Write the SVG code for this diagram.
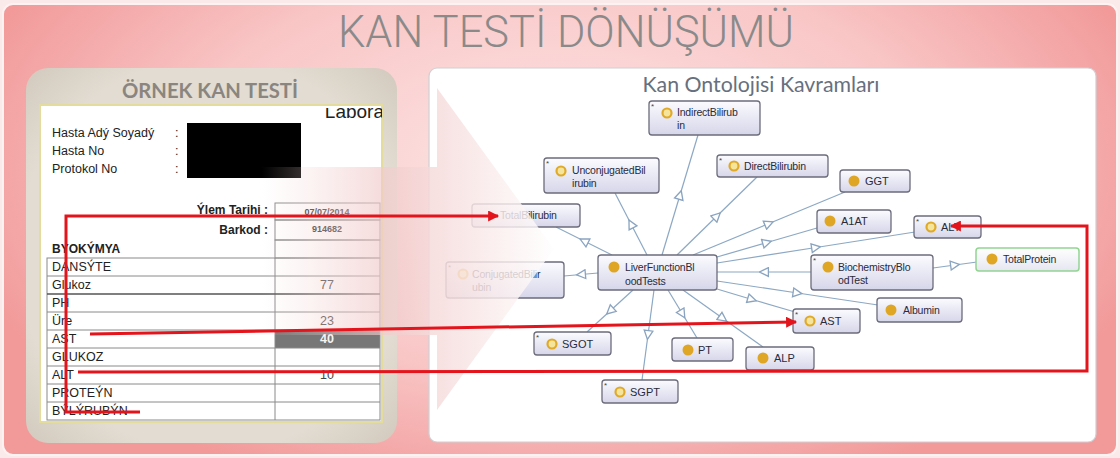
<svg xmlns="http://www.w3.org/2000/svg" width="1120" height="458" viewBox="0 0 1120 458">
<defs>
  <radialGradient id="bg" cx="560" cy="170" r="620" gradientUnits="userSpaceOnUse" gradientTransform="translate(560 170) scale(1 0.55) translate(-560 -170)">
    <stop offset="0" stop-color="#fde6e6"/>
    <stop offset="0.6" stop-color="#f9c6c6"/>
    <stop offset="1" stop-color="#f29a9a"/>
  </radialGradient>
  <radialGradient id="lp" cx="0.5" cy="0.5" r="0.7">
    <stop offset="0.75" stop-color="#e2dcd2"/>
    <stop offset="1" stop-color="#d2cabd"/>
  </radialGradient>
  <linearGradient id="nodeg" x1="0" y1="0" x2="0" y2="1">
    <stop offset="0" stop-color="#fbfbff"/>
    <stop offset="1" stop-color="#d6d6ea"/>
  </linearGradient>
  <linearGradient id="nodegreen" x1="0" y1="0" x2="0" y2="1">
    <stop offset="0" stop-color="#ffffff"/>
    <stop offset="1" stop-color="#e6e6f2"/>
  </linearGradient>
  <linearGradient id="arrowg" x1="262" y1="0" x2="556" y2="0" gradientUnits="userSpaceOnUse">
    <stop offset="0" stop-color="#f6d8d8" stop-opacity="0"/>
    <stop offset="0.4" stop-color="#f1caca" stop-opacity="0.65"/>
    <stop offset="0.6" stop-color="#f6dcdc" stop-opacity="0.85"/>
    <stop offset="1" stop-color="#ffffff" stop-opacity="0.8"/>
  </linearGradient>
  <clipPath id="docclip"><rect x="40" y="108" width="342" height="314"/></clipPath>
  <marker id="hollow" viewBox="0 0 10 10" refX="5" refY="5" markerWidth="11" markerHeight="11" markerUnits="userSpaceOnUse" orient="auto">
    <path d="M1,1 L9,5 L1,9 Z" fill="#ffffff" stroke="#8aa4c0" stroke-width="1.2"/>
  </marker>
  <marker id="redarrow" viewBox="0 0 10 10" refX="9" refY="5" markerWidth="13" markerHeight="11" markerUnits="userSpaceOnUse" orient="auto">
    <path d="M0,0 L10,5 L0,10 Z" fill="#e3141c"/>
  </marker>
  <style>
    .title{font-family:Roboto,"Liberation Sans",sans-serif;font-weight:300;fill:#8a8a8a}
    .sub{font-family:Lato,"Liberation Sans",sans-serif;font-weight:bold;fill:#8a857f}
    .onto{font-family:Lato,"Liberation Sans",sans-serif;fill:#66707e}
    .doc{font-family:"Liberation Sans",Arial,sans-serif;font-size:12.5px;fill:#222}
    .docb{font-family:"Liberation Sans",Arial,sans-serif;font-size:12px;font-weight:bold;fill:#222}
    .val{font-family:"Liberation Sans",Arial,sans-serif;font-size:12.5px;fill:#444;text-anchor:middle}
    .small{font-family:"Liberation Sans",Arial,sans-serif;font-size:9px;font-weight:bold;fill:#333;text-anchor:middle}
    .cell{fill:none;stroke:#8a8a8a;stroke-width:1}
    .box{fill:url(#nodeg);stroke:#6c6c7c;stroke-width:1.3}
    .nt{font-family:"Liberation Sans",Arial,sans-serif;font-size:10.5px;fill:#2a2a3a;letter-spacing:-0.2px}
    .nt1{font-family:"Liberation Sans",Arial,sans-serif;font-size:11px;fill:#2a2a3a}
    .solid{fill:#dea624}
    .ring{fill:#f5e59c;stroke:#e0aa28;stroke-width:2.2}
    .star{font-family:"Liberation Sans",Arial,sans-serif;font-size:8px;fill:#444}
    .edge{fill:none;stroke:#8ca8c4;stroke-width:1.2;marker-mid:url(#hollow)}
    .red{fill:none;stroke:#e3141c;stroke-width:3;stroke-linejoin:miter}
  </style>
</defs>

<!-- background -->
<rect x="0" y="0" width="1120" height="458" fill="#fbeaea"/>
<rect x="3" y="4" width="1114" height="451" rx="10" fill="url(#bg)" stroke="#fdf2f2" stroke-width="2"/>
<text class="title" x="566" y="47" font-size="44" text-anchor="middle" textLength="456" lengthAdjust="spacingAndGlyphs">KAN TESTİ DÖNÜŞÜMÜ</text>

<!-- left panel -->
<g id="sample-test">
  <rect x="26" y="68" width="371" height="375" rx="22" fill="url(#lp)"/>
  <text class="sub" x="210" y="98" font-size="20" text-anchor="middle" textLength="176" lengthAdjust="spacingAndGlyphs">ÖRNEK KAN TESTİ</text>
  <rect x="40" y="105" width="342" height="317" fill="#ffffff" stroke="#e4dc9c" stroke-width="2"/>
  <g clip-path="url(#docclip)">
    <text x="384" y="118" font-family="'Liberation Sans',Arial,sans-serif" font-size="19" fill="#222" text-anchor="end">Labora</text>
  </g>
  <text class="doc" x="52" y="137">Hasta Adý Soyadý</text>
  <text class="doc" x="52" y="155">Hasta No</text>
  <text class="doc" x="52" y="173">Protokol No</text>
  <text class="doc" x="175" y="137">:</text>
  <text class="doc" x="175" y="155">:</text>
  <text class="doc" x="175" y="173">:</text>
  <rect x="187" y="123" width="114" height="55" fill="#000"/>
  <text class="docb" x="268" y="214" text-anchor="end">Ýlem Tarihi :</text>
  <text class="docb" x="268" y="234" text-anchor="end">Barkod :</text>
  <rect class="cell" x="275" y="203" width="105" height="17"/>
  <rect class="cell" x="275" y="220" width="105" height="20"/>
  <rect class="cell" x="275" y="240" width="105" height="18"/>
  <text class="small" x="327" y="215">07/07/2014</text>
  <text class="small" x="327" y="232">914682</text>
  <text class="docb" x="52" y="253">BYOKÝMYA</text>
  <rect x="275" y="330" width="105" height="18" fill="#777777"/>
  <g class="cell">
    <rect x="47" y="258" width="333" height="162"/>
    <line x1="275" y1="258" x2="275" y2="420"/>
    <line x1="47" y1="276" x2="380" y2="276"/>
    <line x1="47" y1="294" x2="380" y2="294" stroke="#555" stroke-width="1.5"/>
    <line x1="47" y1="312" x2="380" y2="312"/>
    <line x1="47" y1="330" x2="380" y2="330"/>
    <line x1="47" y1="348" x2="380" y2="348"/>
    <line x1="47" y1="366" x2="380" y2="366"/>
    <line x1="47" y1="384" x2="380" y2="384"/>
    <line x1="47" y1="402" x2="380" y2="402"/>
  </g>
  <text class="doc" x="52" y="271">DANSÝTE</text>
  <text class="doc" x="52" y="289">Glukoz</text>
  <text class="doc" x="52" y="307">PH</text>
  <text class="doc" x="52" y="325">Üre</text>
  <text class="doc" x="52" y="343">AST</text>
  <text class="doc" x="52" y="361">GLUKOZ</text>
  <text class="doc" x="52" y="379">ALT</text>
  <text class="doc" x="52" y="397">PROTEÝN</text>
  <text class="doc" x="52" y="415">BÝLÝRUBÝN</text>
  <text class="val" x="327" y="289">77</text>
  <text class="val" x="327" y="325">23</text>
  <text class="val" x="327" y="343" style="fill:#f4f4f4;font-weight:bold">40</text>
  <text class="val" x="327" y="379">10</text>
</g>

<!-- right panel -->
<g id="ontology-panel">
  <rect x="429" y="68" width="667" height="374" rx="8" fill="#ffffff" stroke="#cfcfd4" stroke-width="1.2"/>
  <text class="onto" x="761" y="92" font-size="21" text-anchor="middle" textLength="237" lengthAdjust="spacingAndGlyphs">Kan Ontolojisi Kavramları</text>
</g>

<g id="ontology-edges">
  <path class="edge" d="M662,255 L680,195 L698,135"/>
  <path class="edge" d="M647,255 L631,224 L615,193"/>
  <path class="edge" d="M612,255 L584,241 L556,227"/>
  <path class="edge" d="M677,255 L717,216 L757,177"/>
  <path class="edge" d="M693,255 L769,223.5 L845,192"/>
  <path class="edge" d="M717,257 L767,242.5 L817,228"/>
  <path class="edge" d="M717,263 L816,247.5 L915,232"/>
  <path class="edge" d="M811,272 L764,272 L717,272"/>
  <path class="edge" d="M717,281 L797.5,293 L878,305"/>
  <path class="edge" d="M717,289 L752,299.5 L795,312"/>
  <path class="edge" d="M683,290 L723,318.5 L763,347"/>
  <path class="edge" d="M668,290 L682.5,314 L697,338"/>
  <path class="edge" d="M654,290 L648,335 L642,380"/>
  <path class="edge" d="M633,290 L610,311 L587,332"/>
  <path class="edge" d="M598,273 L581,274.5 L564,276"/>
  <path class="edge" d="M933,268 L955,265 L977,262"/>
</g>

<g id="IndirectBilirubin">
  <rect class="box" x="649" y="101" width="111" height="34" rx="3"/>
  <text class="star" x="651" y="109">*</text>
  <circle class="ring" cx="667" cy="113" r="4.5"/>
  <text class="nt" x="677" y="116">IndirectBilirub</text>
  <text class="nt" x="677" y="129">in</text>
</g>
<g id="UnconjugatedBilirubin">
  <rect class="box" x="544" y="158" width="115" height="35" rx="3"/>
  <text class="star" x="546" y="166">*</text>
  <circle class="ring" cx="561" cy="171" r="4.5"/>
  <text class="nt" x="572" y="174">UnconjugatedBil</text>
  <text class="nt" x="572" y="187">irubin</text>
</g>
<g id="DirectBilirubin">
  <rect class="box" x="717" y="155" width="111" height="22" rx="3"/>
  <text class="star" x="719" y="163">*</text>
  <circle class="ring" cx="734" cy="166" r="4.5"/>
  <text class="nt" x="744" y="170">DirectBilirubin</text>
</g>
<g id="GGT">
  <rect class="box" x="840" y="170" width="70" height="22" rx="3"/>
  <circle class="solid" cx="854" cy="181" r="5.5"/>
  <text class="nt1" x="865" y="185">GGT</text>
</g>
<g id="TotalBilirubin">
  <rect class="box" x="472" y="204" width="108" height="23" rx="3"/>
  <text class="nt" x="500" y="219">TotalBilirubin</text>
</g>
<g id="A1AT">
  <rect class="box" x="817" y="210" width="74" height="23" rx="3"/>
  <circle class="solid" cx="830" cy="221" r="5.5"/>
  <text class="nt1" x="841" y="225">A1AT</text>
</g>
<g id="ALT">
  <rect class="box" x="914" y="216" width="67" height="22" rx="3"/>
  <text class="star" x="916" y="224">*</text>
  <circle class="ring" cx="931" cy="227" r="4.5"/>
  <text class="nt1" x="941" y="231">ALT</text>
</g>
<g id="BiochemistryBloodTest">
  <rect class="box" x="811" y="255" width="122" height="35" rx="3"/>
  <text class="star" x="813" y="263">*</text>
  <circle class="solid" cx="828" cy="267" r="5.5"/>
  <text class="nt" x="838" y="271">BiochemistryBlo</text>
  <text class="nt" x="838" y="284">odTest</text>
</g>
<g id="TotalProtein">
  <rect x="976" y="248" width="103" height="23" rx="3" fill="url(#nodegreen)" stroke="#92d492" stroke-width="1.5"/>
  <circle class="solid" cx="992" cy="259" r="5.5"/>
  <text class="nt" x="1003" y="263">TotalProtein</text>
</g>
<g id="Albumin">
  <rect class="box" x="877" y="298" width="85" height="24" rx="3"/>
  <circle class="solid" cx="891" cy="310" r="5.5"/>
  <text class="nt" x="903" y="314">Albumin</text>
</g>
<g id="AST">
  <rect class="box" x="793" y="309" width="67" height="24" rx="3"/>
  <text class="star" x="795" y="317">*</text>
  <circle class="ring" cx="810" cy="321" r="4.5"/>
  <text class="nt1" x="820" y="325">AST</text>
</g>
<g id="ALP">
  <rect class="box" x="746" y="347" width="68" height="23" rx="3"/>
  <circle class="solid" cx="763" cy="358" r="5.5"/>
  <text class="nt1" x="774" y="362">ALP</text>
</g>
<g id="PT">
  <rect class="box" x="672" y="338" width="61" height="23" rx="3"/>
  <circle class="solid" cx="688" cy="350" r="5.5"/>
  <text class="nt1" x="698" y="354">PT</text>
</g>
<g id="SGOT">
  <rect class="box" x="534" y="332" width="77" height="23" rx="3"/>
  <text class="star" x="536" y="340">*</text>
  <circle class="ring" cx="552" cy="344" r="4.5"/>
  <text class="nt1" x="562" y="348">SGOT</text>
</g>
<g id="SGPT">
  <rect class="box" x="602" y="380" width="76" height="23" rx="3"/>
  <text class="star" x="604" y="388">*</text>
  <circle class="ring" cx="620" cy="392" r="4.5"/>
  <text class="nt1" x="630" y="396">SGPT</text>
</g>
<g id="ConjugatedBilirubin">
  <rect class="box" x="446" y="262" width="118" height="36" rx="3"/>
  <text class="star" x="448" y="270">*</text>
  <circle class="ring" cx="463" cy="274" r="4.5"/>
  <text class="nt" x="472" y="278">ConjugatedBilir</text>
  <text class="nt" x="472" y="291">ubin</text>
</g>
<g id="LiverFunctionBloodTests">
  <rect class="box" x="598" y="255" width="119" height="35" rx="3"/>
  <circle class="solid" cx="614" cy="267" r="5.5"/>
  <text class="nt" x="625" y="271">LiverFunctionBl</text>
  <text class="nt" x="625" y="285">oodTests</text>
</g>

<!-- big transition arrow overlay -->
<path d="M262,167 L437,167 L437,88 L554,249 L437,410 L437,335 L262,335 Z" fill="url(#arrowg)"/>

<!-- red mapping connectors -->
<g id="mappings">
  <polyline class="red" points="140,412 66,412 66,216 498,216" marker-end="url(#redarrow)"/>
  <line class="red" x1="90" y1="334" x2="796" y2="322" marker-end="url(#redarrow)"/>
  <polyline class="red" points="78,372 1087,371 1087,226 951,226" marker-end="url(#redarrow)"/>
</g>
</svg>
